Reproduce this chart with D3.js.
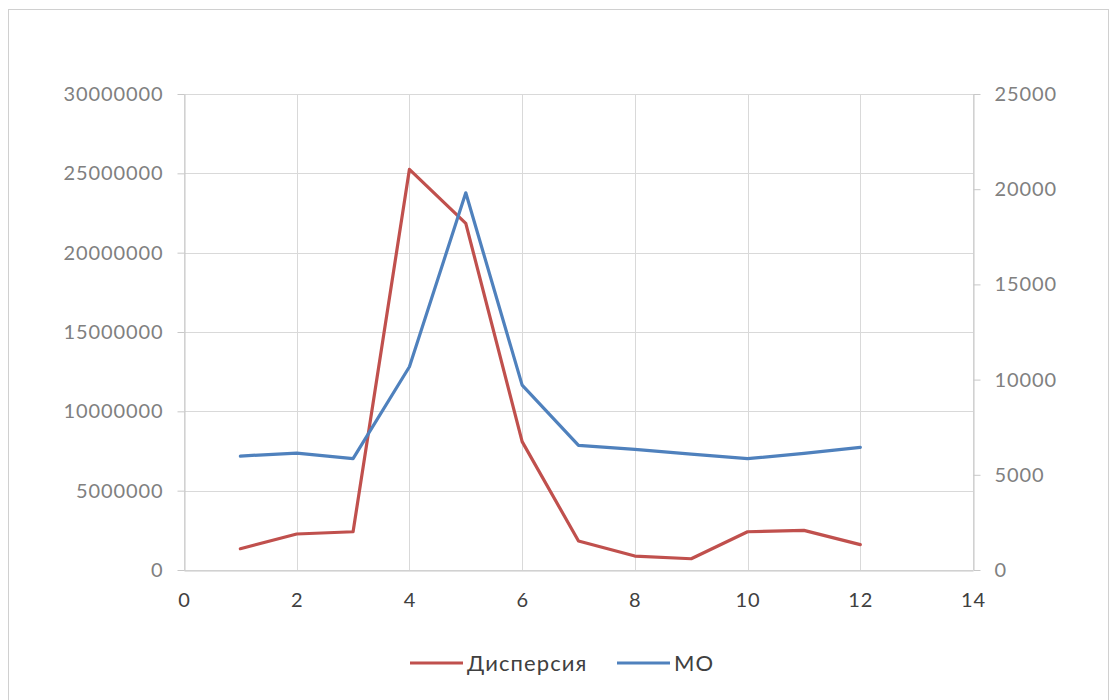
<!DOCTYPE html>
<html>
<head>
<meta charset="utf-8">
<script src="https://cdn.jsdelivr.net/npm/d3@7"></script>
<style>
  html, body { margin: 0; padding: 0; background: #fff; }
  svg { display: block; }
</style>
</head>
<body>
<svg id="chart" width="1113" height="700"></svg>
<script>
// Month index (x), variance (left axis) and mean (right axis)
const xValues = [1, 2, 3, 4, 5, 6, 7, 8, 9, 10, 11, 12];
const dispersion = [1340000, 2270000, 2410000, 25250000, 21850000, 8090000, 1830000, 880000, 710000, 2410000, 2500000, 1600000];
const meanValues = [5985, 6140, 5845, 10675, 19810, 9710, 6545, 6335, 6090, 5845, 6125, 6440];

const xTicks = [0, 2, 4, 6, 8, 10, 12, 14];
const leftTicks = [0, 5000000, 10000000, 15000000, 20000000, 25000000, 30000000];
const rightTicks = [0, 5000, 10000, 15000, 20000, 25000];

const seriesNames = ["Дисперсия", "МО"];
const seriesColors = ["#c0504d", "#4f81bd"];

const svg = d3.select("#chart");
const font = "Lato, 'Open Sans', sans-serif";

// chart frame
svg.append("rect")
  .attr("x", 8.5).attr("y", 9.5)
  .attr("width", 1100).attr("height", 700)
  .attr("fill", "#fff").attr("stroke", "#d0d0d0").attr("stroke-width", 1);

const plot = { left: 184, right: 973, top: 94, bottom: 570 };

const x = d3.scaleLinear().domain([0, 14]).range([plot.left, plot.right]);
const yL = d3.scaleLinear().domain([0, 30000000]).range([plot.bottom, plot.top]);
const yR = d3.scaleLinear().domain([0, 25000]).range([plot.bottom, plot.top]);

// gridlines
const grid = svg.append("g").attr("stroke", "#d9d9d9").attr("stroke-width", 1);
grid.selectAll("line.h").data(leftTicks).join("line")
  .attr("x1", plot.left).attr("x2", plot.right)
  .attr("y1", d => Math.round(yL(d)) + 0.5).attr("y2", d => Math.round(yL(d)) + 0.5);
grid.selectAll("line.v").data(xTicks).join("line")
  .attr("y1", plot.top).attr("y2", plot.bottom)
  .attr("x1", d => Math.round(x(d)) + 0.5).attr("x2", d => Math.round(x(d)) + 0.5);

function styleAxis(g, color) {
  g.select(".domain").attr("stroke", "#c8c8c8");
  g.selectAll(".tick line").attr("stroke", "#c8c8c8");
  g.selectAll(".tick text")
    .attr("fill", color)
    .style("font-family", font)
    .style("font-size", "20px")
    .style("letter-spacing", "0.9px");
}

// left axis
const gL = svg.append("g")
  .attr("transform", `translate(${plot.left + 0.5},0)`)
  .call(d3.axisLeft(yL).tickValues(leftTicks).tickFormat(d3.format("d")).tickSize(7).tickSizeOuter(0).tickPadding(14));
styleAxis(gL, "#808080");

// right axis
const gR = svg.append("g")
  .attr("transform", `translate(${plot.right + 0.5},0)`)
  .call(d3.axisRight(yR).tickValues(rightTicks).tickFormat(d3.format("d")).tickSize(7).tickSizeOuter(0).tickPadding(14));
styleAxis(gR, "#808080");

// bottom axis
const gB = svg.append("g")
  .attr("transform", `translate(0,${plot.bottom + 0.5})`)
  .call(d3.axisBottom(x).tickValues(xTicks).tickFormat(d3.format("d")).tickSize(0).tickSizeOuter(0).tickPadding(22));
styleAxis(gB, "#404040");
gB.select(".domain").attr("stroke", "#c8c8c8");

// series lines
const lineL = d3.line().x((d, i) => x(xValues[i])).y(d => yL(d));
const lineR = d3.line().x((d, i) => x(xValues[i])).y(d => yR(d));

svg.append("path").datum(dispersion)
  .attr("d", lineL).attr("fill", "none")
  .attr("stroke", seriesColors[0]).attr("stroke-width", 3.2)
  .attr("stroke-linejoin", "round").attr("stroke-linecap", "round");

svg.append("path").datum(meanValues)
  .attr("d", lineR).attr("fill", "none")
  .attr("stroke", seriesColors[1]).attr("stroke-width", 3.2)
  .attr("stroke-linejoin", "round").attr("stroke-linecap", "round");

// legend
const legendItems = [
  { name: seriesNames[0], color: seriesColors[0], x: 410 },
  { name: seriesNames[1], color: seriesColors[1], x: 617 }
];
const lg = svg.append("g");
legendItems.forEach(it => {
  lg.append("line")
    .attr("x1", it.x).attr("x2", it.x + 53)
    .attr("y1", 663).attr("y2", 663)
    .attr("stroke", it.color).attr("stroke-width", 3.2);
  lg.append("text")
    .attr("x", it.x + 57).attr("y", 671)
    .attr("fill", "#404040")
    .style("font-family", font)
    .style("font-size", "22px")
    .style("letter-spacing", "1.1px")
    .text(it.name);
});
</script>
</body>
</html>
